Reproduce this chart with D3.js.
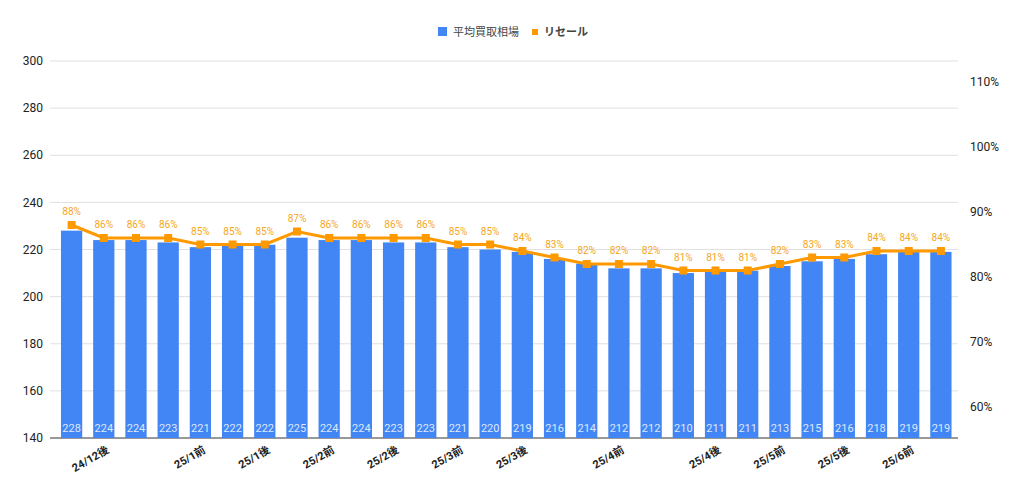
<!DOCTYPE html>
<html><head><meta charset="utf-8">
<script src="https://cdn.jsdelivr.net/npm/d3@7"></script>
<style>
body{margin:0;background:#fff;font-family:Roboto,"Noto Sans CJK JP",sans-serif;}
</style></head><body>
<svg id="c" width="1024" height="496"></svg>
<script>
// データ
const categories = ["24/12前","24/12後","25/1前a","25/1前b","25/1前","25/1中","25/1後","25/2前a","25/2前","25/2中","25/2後","25/3前a","25/3前","25/3中","25/3後","25/3末","25/4前a","25/4前","25/4中","25/4中b","25/4後","25/5前a","25/5前","25/5中","25/5後","25/6前a","25/6前","25/6中"];
const tickLabels = ["","24/12後","","","25/1前","","25/1後","","25/2前","","25/2後","","25/3前","","25/3後","","","25/4前","","","25/4後","","25/5前","","25/5後","","25/6前",""];
const kaitori = [228,224,224,223,221,222,222,225,224,224,223,223,221,220,219,216,214,212,212,210,211,211,213,215,216,218,219,219];
const resale  = [88,86,86,86,85,85,85,87,86,86,86,86,85,85,84,83,82,82,82,81,81,81,82,83,83,84,84,84];
const leftTicks  = [140,160,180,200,220,240,260,280,300];
const rightTicks = [60,70,80,90,100,110];

const BLUE = '#4285f4', ORANGE = '#ff9900';
const svg = d3.select('#c');

const x = d3.scaleBand().domain(categories).range([55.5, 957]).paddingInner(0.34).paddingOuter(0.17);
const y = d3.scaleLinear().domain([140, 300]).range([438, 61]);
const y2 = d3.scaleLinear().domain([60, 110]).range([407, 82]);

// グリッド
svg.append('g').selectAll('line').data(leftTicks).enter().append('line')
  .attr('x1', 50).attr('x2', 958)
  .attr('y1', d => y(d)).attr('y2', d => y(d))
  .attr('stroke', d => d === 140 ? '#333' : '#e0e0e0').attr('stroke-width', 1);

svg.append('g').selectAll('text').data(leftTicks).enter().append('text')
  .attr('x', 43).attr('y', d => y(d)).attr('dy', '0.35em')
  .attr('text-anchor', 'end').attr('font-size', 12).attr('fill', '#222')
  .text(d => d);

svg.append('g').selectAll('text').data(rightTicks).enter().append('text')
  .attr('x', 970).attr('y', d => y2(d)).attr('dy', '0.35em')
  .attr('font-size', 12).attr('fill', '#222')
  .text(d => d + '%');

// 棒
svg.append('g').selectAll('rect').data(kaitori).enter().append('rect')
  .attr('x', (d, i) => x(categories[i])).attr('width', x.bandwidth())
  .attr('y', d => y(d)).attr('height', d => y(140) - y(d))
  .attr('fill', BLUE);

svg.append('g').selectAll('text').data(kaitori).enter().append('text')
  .attr('x', (d, i) => x(categories[i]) + x.bandwidth() / 2).attr('y', 432)
  .attr('text-anchor', 'middle').attr('font-size', 11).attr('fill', '#dde8fd')
  .text(d => d);

// 折れ線
const cx = i => x(categories[i]) + x.bandwidth() / 2;
svg.append('path').datum(resale)
  .attr('d', d3.line().x((d, i) => cx(i)).y(d => y2(d)))
  .attr('fill', 'none').attr('stroke', ORANGE).attr('stroke-width', 3);

svg.append('g').selectAll('rect').data(resale).enter().append('rect')
  .attr('x', (d, i) => cx(i) - 4).attr('y', d => y2(d) - 4)
  .attr('width', 8).attr('height', 8).attr('fill', ORANGE);

svg.append('g').selectAll('text').data(resale).enter().append('text')
  .attr('x', (d, i) => cx(i)).attr('y', d => y2(d) - 10)
  .attr('text-anchor', 'middle').attr('font-size', 10).attr('fill', '#f5a623')
  .text(d => d + '%');

// X軸ラベル
svg.append('g').selectAll('text').data(tickLabels).enter().filter(d => d).append('text')
  .attr('transform', (d, i) => {
    const idx = tickLabels.indexOf(d);
    return `translate(${cx(idx) + 6},${452}) rotate(-30)`;
  })
  .attr('text-anchor', 'end').attr('font-size', 11).attr('font-weight', 'bold').attr('fill', '#222')
  .text(d => d);

// 凡例
const lg = svg.append('g').attr('transform', 'translate(438,32)');
lg.append('rect').attr('x', 0).attr('y', -5).attr('width', 9).attr('height', 9).attr('fill', BLUE);
lg.append('text').attr('x', 15).attr('y', 0).attr('dy', '0.35em').attr('font-size', 11).attr('fill', '#444').text('平均買取相場');
lg.append('rect').attr('x', 94).attr('y', -3).attr('width', 6).attr('height', 6).attr('fill', ORANGE);
lg.append('text').attr('x', 106).attr('y', 0).attr('dy', '0.35em').attr('font-size', 11).attr('font-weight', 'bold').attr('fill', '#444').text('リセール');
</script>
</body></html>
